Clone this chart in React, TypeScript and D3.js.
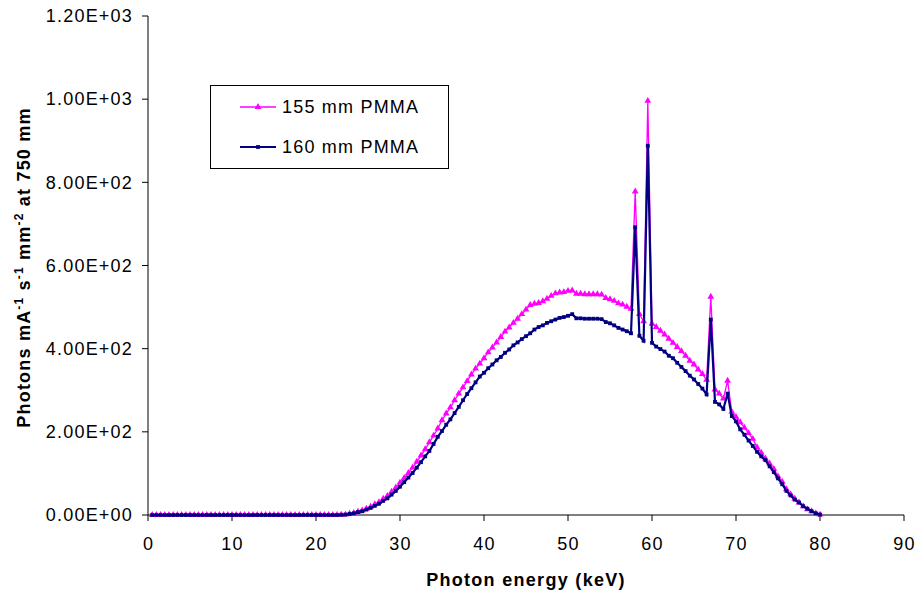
import React from "react";
import * as d3 from "d3";

const xTicks = [0, 10, 20, 30, 40, 50, 60, 70, 80, 90];
const yTicks = [0, 200, 400, 600, 800, 1000, 1200];
const yTickLabels = ["0.00E+00", "2.00E+02", "4.00E+02", "6.00E+02", "8.00E+02", "1.00E+03", "1.20E+03"];

// energies: 0.5 keV bins from 0.5 to 80 keV
const energies: number[] = d3.range(1, 161).map((i) => i * 0.5);

const zeros45 = new Array(45).fill(0);

// 155 mm PMMA, from 23.0 keV onward
const pmma155Tail = [
  0.5, 1, 3, 5, 8, 11, 15, 20, 26, 31, 39, 46, 56, 66, 78, 89, 101, 114, 128, 143,
  158, 175, 191, 208, 228, 244, 259, 276, 292, 307, 322, 338, 352, 364, 377, 391, 403, 415, 428, 441,
  451, 462, 472, 483, 494, 505, 508, 510, 514, 520, 527, 533, 535, 536, 539, 540, 532, 532, 531, 531,
  531, 531, 530, 522, 519, 515, 509, 506, 501, 496, 778, 483, 466, 996, 460, 452, 443, 434, 424, 414,
  404, 394, 383, 371, 362, 350, 339, 325, 525, 302, 292, 280, 323, 248, 236, 223, 210, 197, 183, 163,
  150, 136, 124, 111, 93, 80, 62, 50, 39, 30, 21, 14, 9, 4, 1,
];

// 160 mm PMMA, from 23.0 keV onward
const pmma160Tail = [
  0.5, 1, 2.5, 4, 7, 9, 13, 17, 22, 27, 34, 40, 49, 58, 68, 79, 90, 101, 114, 127,
  141, 154, 171, 188, 202, 217, 230, 245, 260, 276, 291, 305, 319, 333, 342, 353, 362, 372, 380, 390,
  398, 408, 415, 423, 430, 437, 446, 452, 456, 462, 466, 470, 474, 476, 479, 483, 473, 473, 472, 472,
  472, 472, 471, 464, 461, 456, 450, 446, 442, 437, 692, 431, 419, 888, 414, 405, 399, 393, 383, 377,
  366, 356, 346, 335, 326, 315, 304, 290, 470, 272, 266, 255, 292, 238, 225, 206, 193, 179, 166, 152,
  141, 132, 117, 103, 88, 74, 58, 47, 37, 30, 21, 15, 9, 4, 1,
];

const pmma155 = zeros45.concat(pmma155Tail);
const pmma160 = zeros45.concat(pmma160Tail);

const seriesNames = ["155 mm PMMA", "160 mm PMMA"];
const seriesColors = ["#FF00FF", "#000080"];

const W = 924;
const H = 597;
const left = 148;
const right = 904;
const top = 16;
const bottom = 515;

export default function App() {
  const x = d3.scaleLinear().domain([0, 90]).range([left, right]);
  const y = d3.scaleLinear().domain([0, 1200]).range([bottom, top]);

  const line = d3
    .line<number>()
    .x((_, i) => x(energies[i]))
    .y((d) => y(d));

  const font = "'Liberation Sans', Arial, sans-serif";
  const ls = 1.2;
  const tri = d3.symbol().type(d3.symbolTriangle).size(20)() as string;
  const sq = 3.8;

  return (
    <svg
      width={W}
      height={H}
      style={{ position: "absolute", left: 0, top: 0, background: "#fff" }}
      fontFamily={font}
    >
      <rect x={0} y={0} width={W} height={H} fill="#fff" />
      {/* axes */}
      <line x1={left} x2={left} y1={top} y2={bottom} stroke="#000" strokeWidth={1} />
      <line x1={left} x2={right} y1={bottom} y2={bottom} stroke="#000" strokeWidth={1} />
      {yTicks.map((t, i) => (
        <g key={"y" + t}>
          <line x1={left - 6} x2={left} y1={y(t)} y2={y(t)} stroke="#000" />
          <text
            x={133}
            y={y(t)}
            dy="0.35em"
            textAnchor="end"
            fontSize={18}
            letterSpacing={ls}
            fill="#000"
          >
            {yTickLabels[i]}
          </text>
        </g>
      ))}
      {xTicks.map((t) => (
        <g key={"x" + t}>
          <line x1={x(t)} x2={x(t)} y1={bottom} y2={bottom + 6} stroke="#000" />
          <text x={x(t) + 0.5} y={550} textAnchor="middle" fontSize={18} letterSpacing={ls} fill="#000">
            {t}
          </text>
        </g>
      ))}
      {/* axis titles */}
      <text
        x={(left + right) / 2}
        y={586}
        textAnchor="middle"
        fontSize={18}
        fontWeight="bold"
        letterSpacing={1.3}
        fill="#000"
      >
        Photon energy (keV)
      </text>
      <text
        transform={`translate(30, ${(top + bottom) / 2 + 2}) rotate(-90)`}
        textAnchor="middle"
        fontSize={18}
        fontWeight="bold"
        letterSpacing={1.2}
        fill="#000"
      >
        Photons mA
        <tspan fontSize={12} dy={-7}>-1</tspan>
        <tspan dy={7}> s</tspan>
        <tspan fontSize={12} dy={-7}>-1</tspan>
        <tspan dy={7}> mm</tspan>
        <tspan fontSize={12} dy={-7}>-2</tspan>
        <tspan dy={7}> at 750 mm</tspan>
      </text>
      {/* series 155 */}
      <path d={line(pmma155) as string} fill="none" stroke={seriesColors[0]} strokeWidth={1.3} />
      {pmma155.map((v, i) => (
        <path
          key={"m" + i}
          d={tri}
          transform={`translate(${x(energies[i])},${y(v)})`}
          fill={seriesColors[0]}
        />
      ))}
      {/* series 160 */}
      <path d={line(pmma160) as string} fill="none" stroke={seriesColors[1]} strokeWidth={2.2} />
      {pmma160.map((v, i) => (
        <rect
          key={"n" + i}
          x={x(energies[i]) - sq / 2}
          y={y(v) - sq / 2}
          width={sq}
          height={sq}
          fill={seriesColors[1]}
        />
      ))}
      {/* legend */}
      <rect x={210.5} y={85.5} width={238} height={83} fill="#fff" stroke="#000" strokeWidth={1} />
      {seriesNames.map((name, i) => {
        const ly = 107 + i * 40;
        return (
          <g key={name}>
            <line
              x1={240}
              x2={276}
              y1={ly}
              y2={ly}
              stroke={seriesColors[i]}
              strokeWidth={i === 0 ? 1.3 : 2.2}
            />
            {i === 0 ? (
              <path d={tri} transform={`translate(258,${ly})`} fill={seriesColors[0]} />
            ) : (
              <rect x={258 - sq / 2} y={ly - sq / 2} width={sq} height={sq} fill={seriesColors[1]} />
            )}
            <text x={282} y={ly + 6} fontSize={18} letterSpacing={ls} fill="#000">
              {name}
            </text>
          </g>
        );
      })}
    </svg>
  );
}
